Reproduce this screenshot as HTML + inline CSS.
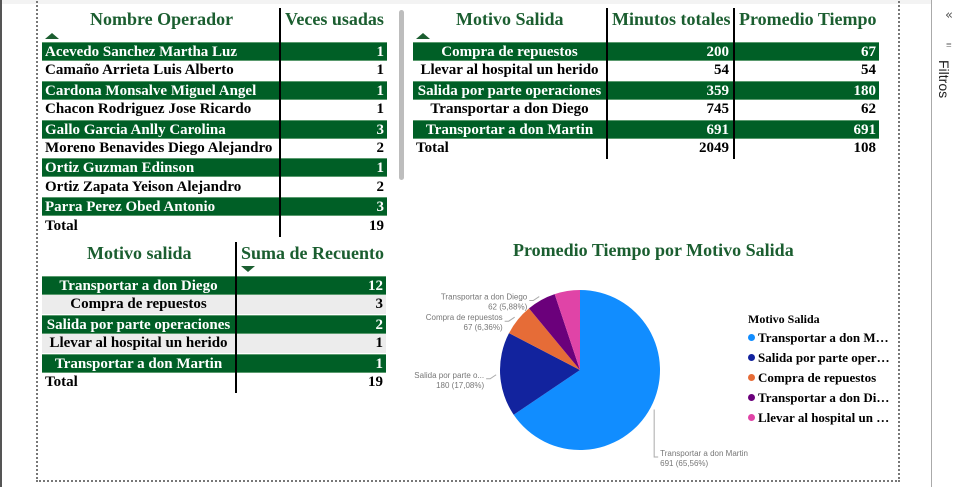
<!DOCTYPE html>
<html><head><meta charset="utf-8"><style>
body{margin:0;width:960px;height:487px;overflow:hidden;background:#fff;font-family:"Liberation Serif",serif;position:relative}
div{box-sizing:border-box}
.abs{position:absolute}
.hdr{position:absolute;font-weight:bold;font-size:18px;color:#1b5e30;white-space:nowrap}
.row{position:absolute;height:19px;font-weight:bold;font-size:15px;line-height:19px;white-space:nowrap}
.g{background:#005f26;color:#fff;border-top:1px solid #5a9a6e;border-bottom:1px solid #5a9a6e}
.l{background:#ececec;color:#000}
.c{position:absolute;top:0}
.vline{position:absolute;width:2px;background:#000}
.tri{position:absolute;width:0;height:0;border-left:7px solid transparent;border-right:7px solid transparent}
.leg{position:absolute;left:748px;font-weight:bold;font-size:13px;white-space:nowrap}
.dot{display:inline-block;width:7px;height:7px;border-radius:50%;margin-right:3px;vertical-align:1px}
</style></head><body>
<div class="abs" style="left:0;top:0;width:960px;height:4px;background:#f3f3f3"></div>
<div class="abs" style="left:0;top:0;width:2px;height:487px;background:#555"></div>
<div class="abs" style="left:36px;top:-2px;width:864px;height:484px;border:2px dotted #777"></div>
<div class="abs" style="left:931px;top:0;width:29px;height:487px;border-left:1px solid #aaa;background:#fff">
  <div class="abs" style="left:13px;top:8px;font-size:13px;color:#555;font-family:'DejaVu Sans',sans-serif">«</div>
  <div class="abs" style="left:14px;top:40px;font-size:10px;color:#555">≡</div>
  <div class="abs" style="left:4px;top:60px;font-family:'Liberation Sans',sans-serif;font-size:14px;color:#222;writing-mode:vertical-rl">Filtros</div>
</div>
<div class="abs" style="left:399px;top:10px;width:5px;height:170px;background:#bdbdbd;border-radius:3px"></div>

<div>
<div class="hdr" style="left:90px;top:9px">Nombre Operador</div>
<div class="hdr" style="left:285px;top:9px">Veces usadas</div>
<div class="tri" style="left:45px;top:33px;border-bottom:6px solid #1b5e30"></div>
<div id="t1"></div>
<div class="vline" style="left:279px;top:8px;height:229px"></div>
</div>

<div>
<div class="hdr" style="left:456px;top:9px">Motivo Salida</div>
<div class="hdr" style="left:612px;top:9px">Minutos totales</div>
<div class="hdr" style="left:739px;top:9px">Promedio Tiempo</div>
<div class="tri" style="left:416px;top:33px;border-bottom:6px solid #1b5e30"></div>
<div id="t2"></div>
<div class="vline" style="left:606px;top:8px;height:151px"></div>
<div class="vline" style="left:733px;top:8px;height:151px"></div>
</div>

<div>
<div class="hdr" style="left:87px;top:243px">Motivo salida</div>
<div class="hdr" style="left:241px;top:243px">Suma de Recuento</div>
<div class="tri" style="left:241px;top:266px;border-top:6px solid #1b5e30"></div>
<div id="t3"></div>
<div class="vline" style="left:235px;top:242px;height:151px"></div>
</div>

<div class="abs" style="left:513px;top:240px;font-weight:bold;font-size:18px;color:#1b5e30;white-space:nowrap">Promedio Tiempo por Motivo Salida</div>
<svg class="abs" style="left:0;top:0" width="960" height="487" id="pie"></svg>
<div class="leg" style="top:312px;font-size:12px">Motivo Salida</div>
<div id="legend"></div>

<script>
const opNames=["Acevedo Sanchez Martha Luz","Camaño Arrieta Luis Alberto","Cardona Monsalve Miguel Angel","Chacon Rodriguez Jose Ricardo","Gallo Garcia Anlly Carolina","Moreno Benavides Diego Alejandro","Ortiz Guzman Edinson","Ortiz Zapata Yeison Alejandro","Parra Perez Obed Antonio"];
const opCounts=[1,1,1,1,3,2,1,2,3];
const opTotal=19;
const motivos=["Compra de repuestos","Llevar al hospital un herido","Salida por parte operaciones","Transportar a don Diego","Transportar a don Martin"];
const minutos=[200,54,359,745,691];
const promedio=[67,54,180,62,691];
const minTotal=2049, promTotal=108;
const cntMotivos=["Transportar a don Diego","Compra de repuestos","Salida por parte operaciones","Llevar al hospital un herido","Transportar a don Martin"];
const cntValues=[12,3,2,1,1];
const cntTotal=19;
const pieCats=["Transportar a don Martin","Salida por parte operaciones","Compra de repuestos","Transportar a don Diego","Llevar al hospital un herido"];
const pieVals=[691,180,67,62,54];
const pieColors=["#118dff","#12239e","#e66c37","#6b007b","#e044a7"];
const legendLabels=["Transportar a don M…","Salida por parte oper…","Compra de repuestos","Transportar a don Di…","Llevar al hospital un …"];

function mkRow(parent,cls,left,top,width,cells){
  const r=document.createElement('div');
  r.className='row '+cls;
  r.style.left=left+'px';r.style.top=top+'px';r.style.width=width+'px';
  
  
  cells.forEach(c=>{
    const d=document.createElement('div');d.className='c';
    d.style.left=c.x+'px';d.style.width=c.w+'px';d.style.textAlign=c.a;d.textContent=c.t;
    
    
    r.appendChild(d);
  });
  parent.appendChild(r);
}
const t1=document.getElementById('t1');
opNames.forEach((n,i)=>mkRow(t1,i%2==0?'g':'',42,42+i*19.4,345,[{x:3,w:235,a:'left',t:n},{x:240,w:102,a:'right',t:opCounts[i]}]));
mkRow(t1,'',42,42+9*19.4,345,[{x:3,w:235,a:'left',t:'Total'},{x:240,w:102,a:'right',t:opTotal}]);
const t2=document.getElementById('t2');
motivos.forEach((n,i)=>mkRow(t2,i%2==0?'g':'',413,42+i*19.4,466,[{x:0,w:193,a:'center',t:n},{x:195,w:121,a:'right',t:minutos[i]},{x:330,w:133,a:'right',t:promedio[i]}]));
mkRow(t2,'',413,42+5*19.4,466,[{x:3,w:190,a:'left',t:'Total'},{x:195,w:121,a:'right',t:minTotal},{x:330,w:133,a:'right',t:promTotal}]);
const t3=document.getElementById('t3');
cntMotivos.forEach((n,i)=>mkRow(t3,i%2==0?'g':'l',42,276+i*19.4,344,[{x:0,w:193,a:'center',t:n},{x:195,w:146,a:'right',t:cntValues[i]}]));
mkRow(t3,'',42,276+5*19.4,344,[{x:3,w:190,a:'left',t:'Total'},{x:195,w:146,a:'right',t:cntTotal}]);

const svg=document.getElementById('pie'),NS='http://www.w3.org/2000/svg';
const cx=580,cy=370,R=80;
const tot=pieVals.reduce((a,b)=>a+b,0);
let ang=0;
const pt=(a,r)=>[cx+r*Math.sin(a),cy-r*Math.cos(a)];
pieVals.forEach((v,i)=>{
  const a0=ang,a1=ang+v/tot*2*Math.PI;ang=a1;
  const [x0,y0]=pt(a0,R),[x1,y1]=pt(a1,R);
  const p=document.createElementNS(NS,'path');
  p.setAttribute('d',`M${cx},${cy}L${x0},${y0}A${R},${R} 0 ${a1-a0>Math.PI?1:0} 1 ${x1},${y1}Z`);
  p.setAttribute('fill',pieColors[i]);
  
  
  svg.appendChild(p);
  if(i<4){
    const mid=(a0+a1)/2;const [ex,ey]=pt(mid,R+4);
    const right=Math.sin(mid)>0;
    const lines=[(i==1?'Salida por parte o...':pieCats[i]),v+' ('+(v/tot*100).toFixed(2).replace('.',',')+'%)'];
    const ly=i==0?457:ey+4;
    const lx=right?ex+4:ex-10;
    const ln=document.createElementNS(NS,'polyline');
    ln.setAttribute('points',right?`${ex},${ey} ${ex},${ly} ${lx},${ly}`:`${ex},${ey} ${ex-6},${ly} ${lx},${ly}`);
    ln.setAttribute('fill','none');ln.setAttribute('stroke','#aaa');
    
    
    svg.appendChild(ln);
    lines.forEach((t,k)=>{
      const tx=document.createElementNS(NS,'text');
      tx.setAttribute('x',right?lx+2:lx-2);tx.setAttribute('y',ly-1+k*10);
      tx.setAttribute('text-anchor',right?'start':'end');
      tx.setAttribute('font-family','Liberation Sans, sans-serif');tx.setAttribute('font-size','8');tx.setAttribute('fill','#777');
      tx.textContent=t;
      
      
      svg.appendChild(tx);
    });
  }
});
const lg=document.getElementById('legend');
legendLabels.forEach((t,i)=>{
  const d=document.createElement('div');d.className='leg';d.style.top=(330+i*20)+'px';
  d.innerHTML='<span class="dot" style="background:'+pieColors[i]+'"></span>'+t;
  
  
  lg.appendChild(d);
});
</script>
</body></html>
